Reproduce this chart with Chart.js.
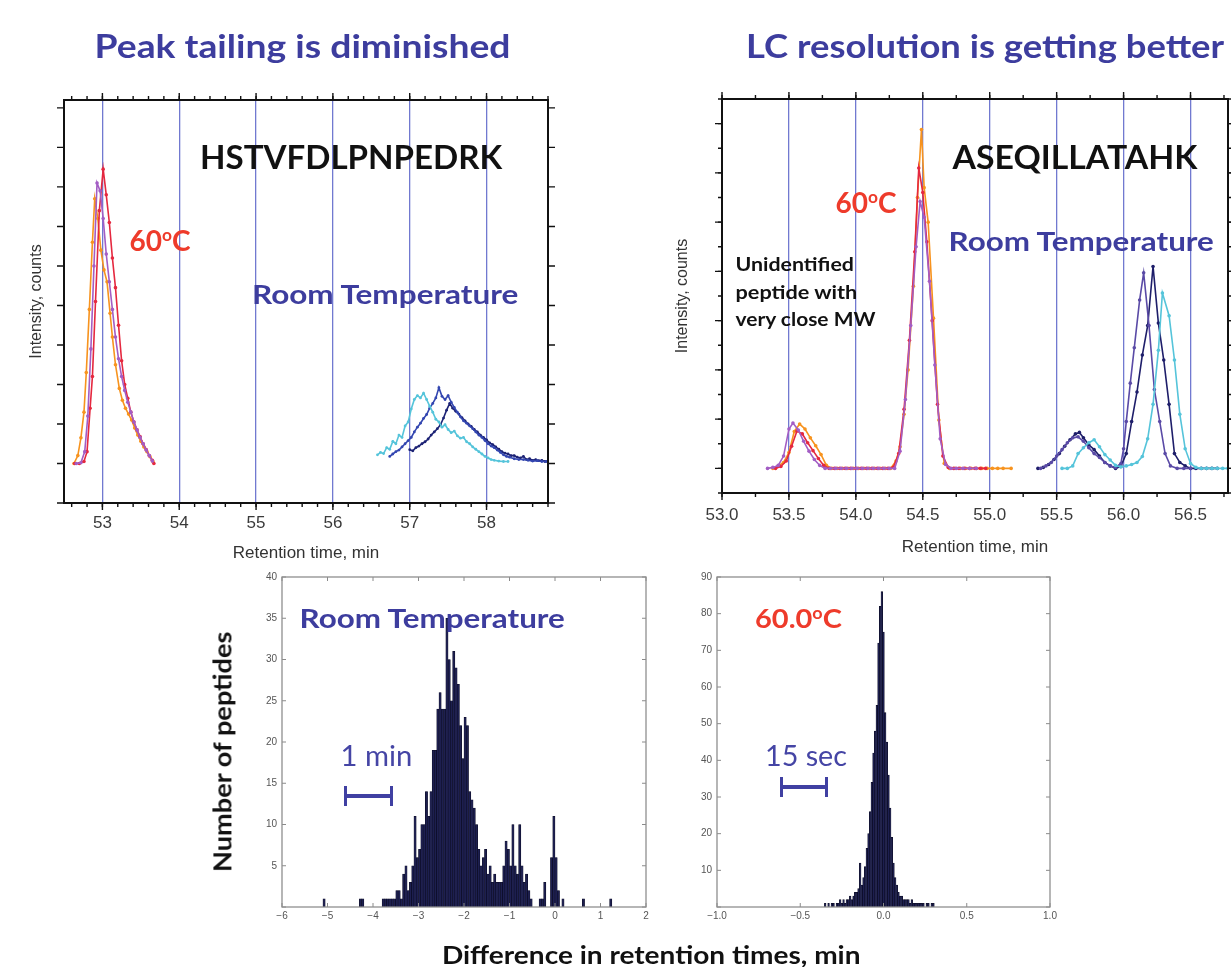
<!DOCTYPE html>
<html><head><meta charset="utf-8">
<script src="https://cdn.jsdelivr.net/npm/chart.js@4.4.1/dist/chart.umd.min.js"></script>
<style>
html,body{margin:0;padding:0;background:#fff;}
#stage{position:relative;width:1231px;height:967px;overflow:hidden;background:#fff;}
canvas{position:absolute;left:0;top:0;}
.t{position:absolute;white-space:nowrap;line-height:1.15;transform-origin:center center;font-family:Lato,"Open Sans",sans-serif;font-weight:700;}
.blue{color:#3d3d9e;}
.red{color:#ee3b2b;}
.blk{color:#111;}
.thin{font-weight:400;color:#4545a5;}
sup{font-size:0.62em;vertical-align:0.55em;line-height:0;}
.sb{position:absolute;background:#4040a2;}
</style></head><body><div id="stage">
<canvas id="cTL" width="1231" height="967"></canvas>
<canvas id="cTR" width="1231" height="967"></canvas>
<canvas id="cBL" width="1231" height="967"></canvas>
<canvas id="cBR" width="1231" height="967"></canvas>

<div class="t blue" data-cx="302" data-cy="46" data-w="416" style="font-size:32px">Peak tailing is diminished</div>
<div class="t blue" data-cx="985" data-cy="46" data-w="478" style="font-size:32px">LC resolution is getting better</div>

<div class="t blk" data-cx="351" data-cy="157" data-w="302" style="font-size:32px">HSTVFDLPNPEDRK</div>
<div class="t red" data-cx="160" data-cy="240" data-w="61" style="font-size:28px">60<sup>o</sup>C</div>
<div class="t blue" data-cx="385" data-cy="293" data-w="266" style="font-size:27px">Room Temperature</div>

<div class="t blk" data-cx="1075" data-cy="157" data-w="245" style="font-size:32px">ASEQILLATAHK</div>
<div class="t red" data-cx="866" data-cy="202" data-w="61" style="font-size:28px">60<sup>o</sup>C</div>
<div class="t blue" data-cx="1081" data-cy="240" data-w="265" style="font-size:27px">Room Temperature</div>
<div class="t blk" data-cx="794" data-cy="264" data-w="118" style="font-size:19px">Unidentified</div>
<div class="t blk" data-cx="796" data-cy="292" data-w="122" style="font-size:19px">peptide with</div>
<div class="t blk" data-cx="805" data-cy="319" data-w="140" style="font-size:19px">very close MW</div>

<div class="t blue" data-cx="432" data-cy="617" data-w="265" style="font-size:27px">Room Temperature</div>
<div class="t red" data-cx="798" data-cy="617" data-w="87" style="font-size:27px">60.0<sup>o</sup>C</div>
<div class="t thin" data-cx="376" data-cy="755" data-w="72" style="font-size:28px">1 min</div>
<div class="t thin" data-cx="806" data-cy="755" data-w="82" style="font-size:28px">15 sec</div>
<div class="t blk" data-cx="222" data-cy="752" data-w="240" data-rot="-90" style="font-size:24px">Number of peptides</div>
<div class="t blk" data-cx="651" data-cy="955" data-w="418" style="font-size:24px">Difference in retention times, min</div>

<div class="sb" style="left:345px;top:794px;width:47px;height:4px"></div>
<div class="sb" style="left:344px;top:786px;width:3px;height:20px"></div>
<div class="sb" style="left:390px;top:786px;width:3px;height:20px"></div>
<div class="sb" style="left:781px;top:785px;width:46px;height:4px"></div>
<div class="sb" style="left:780px;top:777px;width:3px;height:20px"></div>
<div class="sb" style="left:825px;top:777px;width:3px;height:20px"></div>
</div>
<script>
// ================= DATA =================
// Top-left panel (HSTVFDLPNPEDRK): [retention time (min), intensity (arb.)]
const tlHotPurple = [[52.66,0],[52.72,0.02],[52.77,0.3],[52.81,1.2],[52.85,2.9],[52.89,5.0],[52.93,7.1],[52.97,6.9],[53.01,6.2],[53.05,5.3],[53.09,4.6],[53.13,3.9],[53.17,3.2],[53.21,2.65],[53.25,2.2],[53.29,1.85],[53.33,1.55],[53.37,1.3],[53.41,1.05],[53.45,0.85],[53.49,0.66],[53.53,0.5],[53.57,0.34],[53.61,0.2],[53.65,0.06]];
const tlHotRed = [[52.64,0],[52.70,0],[52.76,0.05],[52.80,0.3],[52.84,1.4],[52.87,2.2],[52.91,4.1],[52.96,6.4],[53.01,7.45],[53.05,6.8],[53.09,6.1],[53.13,5.2],[53.17,4.45],[53.21,3.5],[53.25,2.6],[53.29,2.0],[53.33,1.65],[53.37,1.3],[53.41,1.05],[53.45,0.85],[53.49,0.68],[53.53,0.5],[53.57,0.35],[53.61,0.2],[53.65,0.08],[53.67,0]];
const tlHotOrange = [[52.63,0],[52.68,0.2],[52.72,0.65],[52.76,1.3],[52.79,2.3],[52.83,3.9],[52.87,5.6],[52.90,6.7],[52.94,6.2],[52.98,5.4],[53.02,4.9],[53.06,4.6],[53.10,3.8],[53.13,3.2],[53.17,2.5],[53.22,1.9],[53.26,1.6],[53.30,1.4],[53.34,1.25],[53.38,1.1],[53.42,0.9],[53.46,0.72],[53.50,0.56],[53.54,0.42],[53.58,0.3],[53.62,0.17],[53.66,0.04]];
const tlRoomCyan = [[56.58,0.22],[56.62,0.28],[56.66,0.25],[56.70,0.40],[56.74,0.36],[56.78,0.56],[56.82,0.50],[56.86,0.72],[56.90,0.66],[56.94,0.95],[56.98,1.05],[57.02,1.38],[57.06,1.62],[57.10,1.72],[57.14,1.66],[57.18,1.78],[57.22,1.62],[57.26,1.45],[57.30,1.30],[57.34,1.12],[57.38,1.05],[57.42,0.92],[57.46,0.98],[57.50,0.86],[57.54,0.78],[57.58,0.82],[57.62,0.70],[57.66,0.64],[57.70,0.66],[57.74,0.55],[57.78,0.50],[57.82,0.42],[57.86,0.36],[57.90,0.30],[57.94,0.24],[57.98,0.18],[58.02,0.14],[58.06,0.10],[58.10,0.08],[58.16,0.06],[58.22,0.05],[58.28,0.05]];
const tlRoomBlue = [[56.74,0.18],[56.78,0.24],[56.82,0.30],[56.86,0.34],[56.90,0.42],[56.94,0.50],[56.98,0.58],[57.02,0.66],[57.06,0.80],[57.10,0.92],[57.14,1.02],[57.18,1.14],[57.22,1.24],[57.26,1.40],[57.30,1.52],[57.34,1.66],[57.38,1.92],[57.42,1.70],[57.46,1.62],[57.50,1.72],[57.54,1.55],[57.58,1.42],[57.62,1.30],[57.66,1.18],[57.70,1.08],[57.74,1.02],[57.78,0.95],[57.82,0.88],[57.86,0.80],[57.90,0.72],[57.94,0.66],[57.98,0.58],[58.02,0.50],[58.06,0.44],[58.10,0.40],[58.14,0.34],[58.18,0.28],[58.22,0.22],[58.26,0.18],[58.30,0.16],[58.36,0.12],[58.42,0.10],[58.48,0.10],[58.54,0.08],[58.60,0.06],[58.66,0.07],[58.72,0.05],[58.78,0.05]];
const tlRoomNavy = [[57.00,0.35],[57.04,0.32],[57.08,0.40],[57.12,0.44],[57.16,0.50],[57.20,0.55],[57.24,0.62],[57.28,0.72],[57.32,0.80],[57.36,0.88],[57.40,0.98],[57.44,1.15],[57.48,1.35],[57.52,1.52],[57.56,1.40],[57.60,1.32],[57.64,1.25],[57.68,1.16],[57.72,1.08],[57.76,1.00],[57.80,0.94],[57.84,0.86],[57.88,0.80],[57.92,0.72],[57.96,0.66],[58.00,0.60],[58.04,0.52],[58.08,0.48],[58.12,0.42],[58.16,0.36],[58.20,0.30],[58.24,0.26],[58.28,0.24],[58.32,0.20],[58.36,0.20],[58.40,0.16],[58.44,0.14],[58.48,0.18],[58.52,0.10],[58.56,0.12],[58.60,0.08],[58.64,0.10],[58.68,0.07],[58.72,0.08],[58.76,0.05],[58.80,0.06]];

// Top-right panel (ASEQILLATAHK)
const trHotPurple = [[53.34,0],[53.38,0.02],[53.42,0.06],[53.46,0.25],[53.50,0.8],[53.53,0.92],[53.57,0.78],[53.61,0.55],[53.65,0.35],[53.69,0.18],[53.73,0.06],[53.77,0],[53.81,0],[53.85,0],[53.89,0],[53.93,0],[53.97,0],[54.01,0],[54.05,0],[54.09,0],[54.13,0],[54.17,0],[54.21,0],[54.25,0],[54.29,0],[54.33,0.35],[54.37,1.4],[54.41,2.9],[54.45,4.5],[54.48,5.42],[54.51,5.1],[54.55,3.8],[54.59,2.1],[54.63,0.6],[54.67,0.08],[54.71,0],[54.75,0],[54.80,0],[54.85,0],[54.90,0]];
const trHotRed = [[53.40,0],[53.44,0.04],[53.48,0.15],[53.52,0.45],[53.56,0.76],[53.60,0.7],[53.64,0.52],[53.68,0.36],[53.72,0.2],[53.76,0.06],[53.80,0],[53.84,0],[53.88,0],[53.92,0],[53.96,0],[54.00,0],[54.04,0],[54.08,0],[54.12,0],[54.16,0],[54.20,0],[54.24,0],[54.28,0.02],[54.32,0.3],[54.36,1.2],[54.40,2.6],[54.44,4.4],[54.47,6.1],[54.50,5.6],[54.53,4.6],[54.57,3.0],[54.61,1.3],[54.65,0.25],[54.69,0.02],[54.73,0],[54.77,0],[54.81,0],[54.85,0],[54.89,0],[54.93,0],[54.97,0]];
const trHotOrange = [[53.38,0],[53.42,0.05],[53.46,0.12],[53.50,0.32],[53.54,0.75],[53.58,0.9],[53.62,0.8],[53.66,0.62],[53.70,0.46],[53.74,0.28],[53.78,0.06],[53.82,0],[53.86,0],[53.90,0],[53.94,0],[53.98,0],[54.02,0],[54.06,0],[54.10,0],[54.14,0],[54.18,0],[54.22,0],[54.26,0],[54.30,0.15],[54.33,0.44],[54.36,1.1],[54.39,2.0],[54.43,3.7],[54.46,5.5],[54.49,6.88],[54.51,5.7],[54.54,5.0],[54.58,3.05],[54.62,0.98],[54.66,0.1],[54.70,0],[54.74,0],[54.78,0],[54.82,0],[54.86,0],[54.90,0],[54.94,0],[54.98,0],[55.02,0],[55.06,0],[55.10,0],[55.16,0]];
const trRoomCyan = [[55.54,0],[55.58,0],[55.62,0.05],[55.66,0.3],[55.70,0.42],[55.74,0.52],[55.78,0.58],[55.82,0.44],[55.86,0.28],[55.90,0.17],[55.94,0.06],[55.98,0.03],[56.02,0.05],[56.06,0.08],[56.10,0.12],[56.14,0.24],[56.18,0.6],[56.22,1.3],[56.26,2.4],[56.29,3.56],[56.34,3.1],[56.38,2.2],[56.42,1.1],[56.46,0.4],[56.50,0.1],[56.54,0.02],[56.58,0],[56.62,0],[56.66,0],[56.70,0],[56.74,0],[56.78,0]];
const trRoomPurple = [[55.38,0],[55.42,0.05],[55.46,0.12],[55.50,0.25],[55.54,0.38],[55.58,0.52],[55.62,0.62],[55.66,0.64],[55.70,0.55],[55.74,0.42],[55.78,0.3],[55.82,0.22],[55.86,0.12],[55.90,0.05],[55.94,0.02],[55.98,0.1],[56.00,0.4],[56.02,0.95],[56.05,1.73],[56.08,2.45],[56.12,3.42],[56.15,3.97],[56.19,2.9],[56.23,1.6],[56.27,0.95],[56.31,0.3],[56.35,0.05],[56.40,0],[56.45,0],[56.50,0]];
const trRoomNavy = [[55.36,0],[55.40,0.02],[55.44,0.08],[55.48,0.18],[55.52,0.3],[55.56,0.45],[55.60,0.58],[55.64,0.7],[55.67,0.73],[55.70,0.62],[55.74,0.48],[55.78,0.38],[55.82,0.25],[55.86,0.12],[55.90,0.05],[55.94,0],[55.98,0.04],[56.02,0.3],[56.06,0.95],[56.10,1.55],[56.14,2.3],[56.18,2.9],[56.22,4.1],[56.26,2.95],[56.30,2.2],[56.34,1.3],[56.38,0.3],[56.42,0.12],[56.46,0.05],[56.50,0],[56.54,0],[56.58,0],[56.62,0],[56.66,0],[56.70,0]];

// Bottom-left histogram (room temperature): bin centres (min) and counts
const blBins = [-5.075,-4.275,-4.225,-3.775,-3.725,-3.675,-3.625,-3.575,-3.525,-3.475,-3.425,-3.375,-3.325,-3.275,-3.225,-3.175,-3.125,-3.075,-3.025,-2.975,-2.925,-2.875,-2.825,-2.775,-2.725,-2.675,-2.625,-2.575,-2.525,-2.475,-2.425,-2.375,-2.325,-2.275,-2.225,-2.175,-2.125,-2.075,-2.025,-1.975,-1.925,-1.875,-1.825,-1.775,-1.725,-1.675,-1.625,-1.575,-1.525,-1.475,-1.425,-1.375,-1.325,-1.275,-1.225,-1.175,-1.125,-1.075,-1.025,-0.975,-0.925,-0.875,-0.825,-0.775,-0.725,-0.675,-0.625,-0.575,-0.525,-0.325,-0.275,-0.225,-0.075,-0.025,0.025,0.075,0.175,0.625,1.225];
const blCounts = [1,1,1,1,1,1,1,1,1,2,2,1,4,5,2,3,5,11,6,7,10,10,14,11,14,19,19,24,26,24,24,35,30,25,31,29,27,22,18,23,22,14,13,12,10,7,5,6,7,4,5,3,4,3,3,3,5,8,7,5,10,5,4,10,5,3,4,2,1,1,1,3,6,11,6,2,1,1,1];

// Bottom-right histogram (60.0 °C)
const brBins = [-0.35,-0.33,-0.31,-0.30,-0.28,-0.27,-0.26,-0.25,-0.24,-0.23,-0.22,-0.21,-0.20,-0.19,-0.18,-0.17,-0.16,-0.15,-0.14,-0.13,-0.12,-0.11,-0.10,-0.09,-0.08,-0.07,-0.06,-0.05,-0.04,-0.03,-0.02,-0.01,0.00,0.01,0.02,0.03,0.04,0.05,0.06,0.07,0.08,0.09,0.10,0.11,0.12,0.13,0.14,0.15,0.16,0.17,0.18,0.19,0.20,0.21,0.22,0.23,0.24,0.26,0.27,0.29,0.30];
const brCounts = [1,1,1,1,1,1,2,1,2,1,2,2,3,2,3,4,4,5,12,6,8,11,16,20,26,34,42,48,55,72,82,86,75,53,45,36,27,19,12,8,6,4,3,3,2,2,2,2,1,2,1,1,1,1,1,1,1,1,1,1,1];

// Axis tick settings
const tlXTicks = {min:52.5, max:58.8, major:1, minor:0.2};
const tlYRange = {min:-1, max:9.2, major:1};
const trXTicks = {min:53.0, max:56.78, major:0.5, minor:0.25};
const trYRange = {min:-0.5, max:7.5, major:1, minor:0.5};
const blXTicks = {min:-6, max:2, major:1};
const blYTicks = {min:0, max:40, major:5};
const brXTicks = {min:-1, max:1, major:0.5};
const brYTicks = {min:0, max:90, major:10};

// ================= HELPERS =================
const pts = a => a.map(p => ({x:p[0], y:p[1]}));
const bars = (xs, ys) => xs.map((x,i) => ({x:x, y:ys[i]}));

const frameTicks = {
  id:'frameTicks',
  afterDatasetsDraw(chart, args, o){
    const {ctx, chartArea:a} = chart; const x = chart.scales.x, y = chart.scales.y;
    ctx.save();
    ctx.strokeStyle = o.color; ctx.lineWidth = o.tickWidth;
    const d = o.inward ? -1 : 1;
    const xs = (step, len) => {
      for (let k = Math.ceil(x.min/step - 1e-6); k*step <= x.max + 1e-6; k++){
        const px = x.getPixelForValue(k*step);
        ctx.beginPath();
        ctx.moveTo(px, a.bottom); ctx.lineTo(px, a.bottom + d*len);
        ctx.moveTo(px, a.top); ctx.lineTo(px, a.top - d*len);
        ctx.stroke();
      }
    };
    const ys = (step, len) => {
      for (let k = Math.ceil(y.min/step - 1e-6); k*step <= y.max + 1e-6; k++){
        const py = y.getPixelForValue(k*step);
        ctx.beginPath();
        ctx.moveTo(a.left, py); ctx.lineTo(a.left - d*len, py);
        ctx.moveTo(a.right, py); ctx.lineTo(a.right + d*len, py);
        ctx.stroke();
      }
    };
    if (o.xMinor) xs(o.xMinor, o.minorLen);
    if (o.xMajor) xs(o.xMajor, o.majorLen);
    if (o.yMinor) ys(o.yMinor, o.minorLen);
    if (o.yMajor) ys(o.yMajor, o.majorLen);
    ctx.lineWidth = o.frameWidth; ctx.strokeStyle = o.frameColor;
    ctx.strokeRect(a.left, a.top, a.right - a.left, a.bottom - a.top);
    ctx.restore();
  }
};
Chart.register(frameTicks);

function place(chart, box){
  let p = {left:20, top:20, right:20, bottom:20};
  for (let i = 0; i < 5; i++){
    const a = chart.chartArea;
    const dl = box[0]-a.left, dt = box[1]-a.top, dr = a.right-box[2], db = a.bottom-box[3];
    if (Math.abs(dl)+Math.abs(dt)+Math.abs(dr)+Math.abs(db) < 0.3) break;
    p = {left:p.left+dl, top:p.top+dt, right:p.right+dr, bottom:p.bottom+db};
    chart.options.layout.padding = p;
    chart.update('none');
  }
}

const lineDs = (data, color, r) => ({data:pts(data), borderColor:color, backgroundColor:color,
  borderWidth:1.6, pointRadius:r, pointHoverRadius:0, pointBorderWidth:0, pointBackgroundColor:color, tension:0});

const tickFont = {family:'"Liberation Sans", Arial, sans-serif', size:17};
const smallFont = {family:'"Liberation Sans", Arial, sans-serif', size:10};

function topChart(id, datasets, xr, yr, box, xfmt, gridFrom, tickPad, titleGap, yTitleGap){
  const c = new Chart(document.getElementById(id), {
    type:'line',
    data:{datasets},
    options:{
      responsive:false, animation:false, events:[],
      layout:{padding:{left:20,top:20,right:20,bottom:20}},
      plugins:{legend:{display:false}, tooltip:{enabled:false},
        frameTicks:{color:'#111', tickWidth:1.4, inward:false, xMajor:xr.major, xMinor:xr.minor,
          yMajor:yr.major, yMinor:yr.minor, majorLen:7, minorLen:4, frameWidth:2, frameColor:'#111'}},
      scales:{
        x:{type:'linear', min:xr.min, max:xr.max,
          ticks:{stepSize:xr.major, includeBounds:false, maxRotation:0, autoSkip:false, padding:tickPad, color:'#3a3a3a', font:tickFont, callback:xfmt},
          grid:{drawTicks:false, color:(ctx)=> (ctx.tick && ctx.tick.value > gridFrom) ? 'rgba(78,88,196,0.8)' : 'rgba(0,0,0,0)', lineWidth:1.3},
          border:{display:false},
          title:{display:true, text:'Retention time, min', color:'#333', font:{family:'"Liberation Sans", Arial, sans-serif', size:17}, padding:{top:0,bottom:titleGap}}},
        y:{type:'linear', min:yr.min, max:yr.max,
          ticks:{display:false}, grid:{display:false, drawTicks:false}, border:{display:false},
          title:{display:true, text:'Intensity, counts', color:'#333', font:{family:'"Liberation Sans", Arial, sans-serif', size:16}, padding:{top:0,bottom:yTitleGap}}}
      }
    }
  });
  place(c, box);
  return c;
}

function histChart(id, data, xr, yr, box, xfmt){
  const c = new Chart(document.getElementById(id), {
    type:'bar',
    data:{datasets:[{data, backgroundColor:'#1d1f50', borderColor:'#0b0b22', borderWidth:0.6, barPercentage:1, categoryPercentage:1}]},
    options:{
      responsive:false, animation:false, events:[],
      layout:{padding:{left:20,top:20,right:20,bottom:20}},
      plugins:{legend:{display:false}, tooltip:{enabled:false},
        frameTicks:{color:'#8a8a8a', tickWidth:1, inward:true, xMajor:xr.major, yMajor:yr.major, majorLen:4, minorLen:0, frameWidth:1.3, frameColor:'#8f8f8f'}},
      scales:{
        x:{type:'linear', min:xr.min, max:xr.max, offset:false,
          ticks:{stepSize:xr.major, maxRotation:0, autoSkip:false, padding:3, color:'#555', font:smallFont, callback:xfmt},
          grid:{display:false, drawTicks:false}, border:{display:false}},
        y:{type:'linear', min:yr.min, max:yr.max,
          ticks:{stepSize:yr.major, padding:5, color:'#555', font:smallFont, callback:v => v === 0 ? '' : String(v)},
          grid:{display:false, drawTicks:false}, border:{display:false}}
      }
    }
  });
  place(c, box);
  return c;
}

const C = {tlP:'#a35dc4', tlR:'#e5283f', tlO:'#f7931e', cyan:'#55c4da', blue:'#3346b0', navy:'#1d2375', purp:'#5a4aa6'};

topChart('cTL', [
  lineDs(tlRoomCyan, C.cyan, 1.4), lineDs(tlRoomBlue, C.blue, 1.4), lineDs(tlRoomNavy, C.navy, 1.4),
  lineDs(tlHotPurple, C.tlP, 1.8), lineDs(tlHotRed, C.tlR, 1.8), lineDs(tlHotOrange, C.tlO, 1.8)
], tlXTicks, tlYRange, [64,100,548,503], v => String(v), 52.6, 10, 8, 18);

topChart('cTR', [
  lineDs(trRoomCyan, C.cyan, 1.8), lineDs(trRoomPurple, C.purp, 1.8), lineDs(trRoomNavy, '#1e1e6a', 1.8),
  lineDs(trHotPurple, C.tlP, 1.8), lineDs(trHotRed, C.tlR, 1.8), lineDs(trHotOrange, C.tlO, 1.8)
], trXTicks, trYRange, [722,99,1228,493], v => Number(v).toFixed(1), 53.1, 12, 8, 30);

histChart('cBL', bars(blBins, blCounts), blXTicks, blYTicks, [282,577,646,907], v => String(v).replace('-', '\u2212'));
histChart('cBR', bars(brBins, brCounts), brXTicks, brYTicks, [717,577,1050,907], v => Number(v).toFixed(1).replace('-', '\u2212'));

// ---- place text labels (real DOM text) ----
function fitTexts(){
  document.querySelectorAll('.t').forEach(el => {
    el.style.transform = 'none';
    const ow = el.offsetWidth, oh = el.offsetHeight;
    const w = +el.dataset.w, cx = +el.dataset.cx, cy = +el.dataset.cy, rot = +(el.dataset.rot || 0);
    const k = w ? w/ow : 1;
    el.style.left = (cx - ow/2) + 'px';
    el.style.top = (cy - oh/2) + 'px';
    el.style.transform = 'rotate(' + rot + 'deg) scaleX(' + k.toFixed(3) + ')';
  });
}
fitTexts();
if (document.fonts && document.fonts.ready) document.fonts.ready.then(fitTexts);
</script>
</body></html>
